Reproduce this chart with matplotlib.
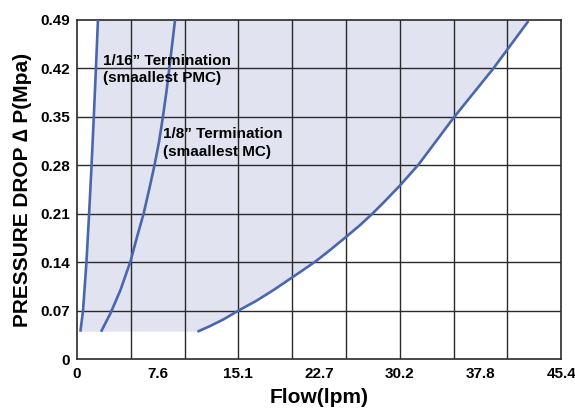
import numpy as np
import matplotlib
matplotlib.use("Agg")
from matplotlib import pyplot as plt

flow_ticks = [0, 7.6, 15.1, 22.7, 30.2, 37.8, 45.4]
pressure_ticks = [0, 0.07, 0.14, 0.21, 0.28, 0.35, 0.42, 0.49]
pressure_labels = ["0", "0.07", "0.14", "0.21", "0.28", "0.35", "0.42", "0.49"]

# 1/16" termination
flow_116 = [0.31, 0.56, 0.88, 1.13, 1.36, 1.57, 1.77, 1.96]
dp_116 = [0.0395, 0.07, 0.14, 0.21, 0.28, 0.35, 0.42, 0.49]

# 1/8" termination
flow_18 = [2.25, 3.13, 4.07, 5.0, 5.63, 6.25, 6.82, 7.26, 7.7, 8.05, 8.37, 8.65, 8.92, 9.19]
dp_18 = [0.0395, 0.066, 0.0997, 0.1407, 0.1768, 0.2106, 0.249, 0.28, 0.315,
         0.35, 0.385, 0.42, 0.455, 0.49]

# outer limit curve
flow_max = [11.29, 12.48, 13.73, 15.23, 16.85, 18.42, 20.14, 21.23, 22.42, 23.73,
            25.14, 26.55, 27.73, 28.89, 30.23, 32.02, 35.30, 39.05, 42.33]
dp_max = [0.0395, 0.0477, 0.0573, 0.0708, 0.0845, 0.0997, 0.1176, 0.1290, 0.1417,
          0.1576, 0.1754, 0.1937, 0.2106, 0.2285, 0.2500, 0.2810, 0.3485, 0.4202,
          0.4886]

line_col = "#4a67ad"
fill_col = "#e1e3f0"
font = ["Liberation Sans", "DejaVu Sans"]

fig = plt.figure(figsize=(5.75, 4.08), dpi=100)
ax = fig.add_axes([0.134, 0.120, 0.842, 0.831])

# shaded operating region between the 1/16" curve and the outer curve
px = flow_116 + [flow_max[-1] + 0.05] + flow_max[::-1]
py = dp_116 + [0.49] + dp_max[::-1]
ax.fill(px, py, color=fill_col, lw=0, zorder=0)

for gx in np.linspace(0, 45.4, 10)[1:-1]:
    ax.axvline(gx, color="#2a2a2a", lw=1.0, zorder=1)
for gy in pressure_ticks[1:-1]:
    ax.axhline(gy, color="#2a2a2a", lw=1.0, zorder=1)

for fx, fy in [(flow_116, dp_116), (flow_18, dp_18), (flow_max, dp_max)]:
    ax.plot(fx, fy, color=line_col, lw=1.9, zorder=3, solid_capstyle="butt",
            solid_joinstyle="round")

ax.set_xlim(0, 45.4)
ax.set_ylim(0, 0.49)
ax.set_xticks(flow_ticks)
ax.set_xticklabels([str(t) for t in flow_ticks])
ax.set_yticks(pressure_ticks)
ax.set_yticklabels(pressure_labels)
ax.tick_params(axis="y", length=0, pad=5)
ax.tick_params(axis="x", length=0, pad=6)
for lab in ax.get_xticklabels() + ax.get_yticklabels():
    lab.set_fontfamily(font)
    lab.set_fontweight("bold")
    lab.set_fontsize(11)
for s in ax.spines.values():
    s.set_color("#2a2a2a")
    s.set_linewidth(1.2)

ax.text(2.44, 0.4185, "1/16\u201d Termination\n(smaallest PMC)", family=font,
        weight="bold", fontsize=11, va="center", ha="left", linespacing=1.3, zorder=4)
ax.text(8.1, 0.3122, "1/8\u201d Termination\n(smaallest MC)", family=font,
        weight="bold", fontsize=11, va="center", ha="left", linespacing=1.3, zorder=4)

ax.set_xlabel("Flow(lpm)", family=font, weight="bold", fontsize=15, labelpad=5)
ax.set_ylabel("PRESSURE DROP \u2206 P(Mpa)", family=font, weight="bold", fontsize=15, labelpad=6)

fig.savefig("out.png", dpi=100)
